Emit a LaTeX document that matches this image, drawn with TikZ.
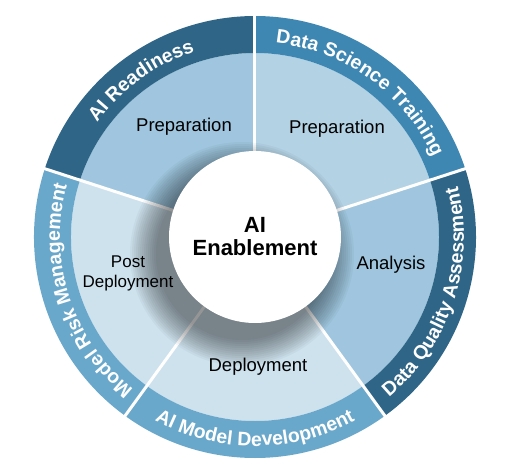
\documentclass[tikz,border=0pt]{standalone}
\usepackage{fontspec}
\setmainfont{Liberation Sans}
\usetikzlibrary{decorations.text}

\definecolor{banddark}{HTML}{2F6587}
\definecolor{bandmid}{HTML}{3E87B2}
\definecolor{bandlight}{HTML}{6AA8CB}
\definecolor{segdeep}{HTML}{9FC6DE}
\definecolor{segsoft}{HTML}{B3D2E4}
\definecolor{segpale}{HTML}{CEE2EE}

\begin{document}
\begin{tikzpicture}[x=1pt, y=1pt,
  seglabel/.style={font=\fontsize{18.5}{21}\selectfont, align=center},
  bandtext/.style={decorate, decoration={text along path, text align=center,
    text color=white, text={|\fontsize{19.5}{21}\selectfont\bfseries|#1}}},
  divider/.style={white, line width=3pt}]

\useasboundingbox (-255,-238) rectangle (257,237);

% Define the inner segments
\fill[segdeep] (0,0) -- (90:184) arc[start angle=90, end angle=162, radius=184] -- cycle;
\fill[segsoft] (0,0) -- (18:184) arc[start angle=18, end angle=90, radius=184] -- cycle;
\fill[segdeep] (0,0) -- (-54:184) arc[start angle=-54, end angle=18, radius=184] -- cycle;
\fill[segpale] (0,0) -- (-126:184) arc[start angle=-126, end angle=-54, radius=184] -- cycle;
\fill[segpale] (0,0) -- (162:184) arc[start angle=162, end angle=234, radius=184] -- cycle;

% Define the outer bands
\fill[banddark] (90:184) -- (90:221) arc[start angle=90, end angle=162, radius=221]
  -- (162:184) arc[start angle=162, end angle=90, radius=184] -- cycle;
\fill[bandmid] (18:184) -- (18:221) arc[start angle=18, end angle=90, radius=221]
  -- (90:184) arc[start angle=90, end angle=18, radius=184] -- cycle;
\fill[banddark] (-54:184) -- (-54:221) arc[start angle=-54, end angle=18, radius=221]
  -- (18:184) arc[start angle=18, end angle=-54, radius=184] -- cycle;
\fill[bandlight] (-126:184) -- (-126:221) arc[start angle=-126, end angle=-54, radius=221]
  -- (-54:184) arc[start angle=-54, end angle=-126, radius=184] -- cycle;
\fill[bandlight] (162:184) -- (162:221) arc[start angle=162, end angle=234, radius=221]
  -- (234:184) arc[start angle=234, end angle=162, radius=184] -- cycle;

% Draw white gaps between segments
\foreach \a in {90,18,-54,-126,162}
  \draw[divider] (\a:60) -- (\a:224);

% Draw band titles
\path[bandtext=AI Readiness] (162:195) arc[start angle=162, end angle=90, radius=195];
\path[bandtext=Data Science Training] (90:195) arc[start angle=90, end angle=18, radius=195];
\path[bandtext=Data Quality Assessment] (-54:209) arc[start angle=-54, end angle=18, radius=209];
\path[bandtext=AI Model Development] (-126:209) arc[start angle=-126, end angle=-54, radius=209];
\path[bandtext=Model Risk Management] (234:195) arc[start angle=234, end angle=162, radius=195];

% Shadow of the hub
\foreach \r in {0,2,...,26}
  \fill[black, opacity=0.035] (-13,-17) circle[radius=86+\r];

% Define nodes
\node[circle, fill=white, minimum size=172pt, inner sep=0pt, align=center,
  font=\fontsize{22}{23}\selectfont\bfseries] (core) at (0,0) {AI\\Enablement};
\node[seglabel] (prepA) at (-71,110) {Preparation};
\node[seglabel] (prepB) at (82,108) {Preparation};
\node[seglabel] (analysis) at (136,-28) {Analysis};
\node[seglabel] (deploy) at (3,-130) {Deployment};
\node[seglabel, font=\fontsize{17}{20}\selectfont] (post) at (-127,-36) {Post\\Deployment};

\end{tikzpicture}
\end{document}
